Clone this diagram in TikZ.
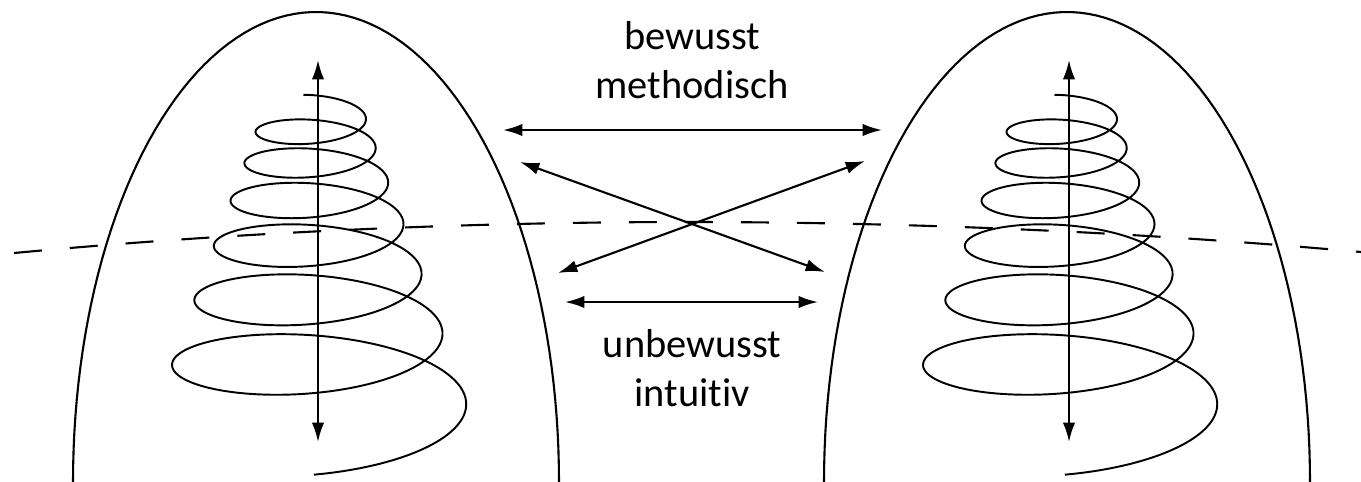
\documentclass[tikz,border=0pt]{standalone}
\usepackage{fontspec}
\setmainfont{Carlito}[Ligatures=NoCommon]
\usetikzlibrary{arrows.meta}

\begin{document}
\begin{tikzpicture}[x=0.02cm, y=-0.02cm,
  term/.style={align=center, inner sep=0pt, font=\fontsize{23}{27.5}\selectfont},
  twoway/.style={draw, {Latex[length=11pt,width=7pt]}-{Latex[length=11pt,width=7pt]}, line width=1.2pt},
  cone/.style={draw, line width=1.2pt},
  coil/.style={draw, line width=1.1pt},
  horizon/.style={draw, line width=1.2pt, dash pattern=on 0.56cm off 0.56cm}]

  \useasboundingbox (0,0) rectangle (1361,481);

  % dashed horizon
  \path [horizon] (14,253) parabola bend (686,222) (1361,252);

  \foreach \dx/\side in {0/l, 751/r} {
    % arch
    \path [cone] plot [domain=180:0, samples=90] ({316+\dx+243*cos(\x)}, {482-470*sin(\x)});
    % coil around the axis
    \path [coil] plot [domain=-0.03:6.5, samples=450, smooth]
      ({313+\dx+(51+7.6*(\x)+1.4*(\x)*(\x))*sin(360*\x)},
       {112+0.5*(51*(\x)+3.8*(\x)*(\x)+0.4667*(\x)*(\x)*(\x))-0.33*(51+7.6*(\x)+1.4*(\x)*(\x))*cos(360*\x)});
    \coordinate (up-\side) at (318+\dx,60);
    \coordinate (down-\side) at (318+\dx,442);
    \path [twoway] (up-\side) -- (down-\side);
  }

  \node [term] (conscious) at (692,60) {bewusst\\methodisch};
  \node [term] (unconscious) at (692,368) {unbewusst\\intuitiv};

  \coordinate (high-l) at (503,130);
  \coordinate (high-r) at (882,130);
  \coordinate (cross-a) at (520,162);
  \coordinate (cross-b) at (825,272);
  \coordinate (cross-c) at (865,161);
  \coordinate (cross-d) at (558,273);
  \coordinate (low-l) at (565,302);
  \coordinate (low-r) at (818,302);

  \path [twoway] (high-l) -- (high-r);
  \path [twoway] (cross-a) -- (cross-b);
  \path [twoway] (cross-c) -- (cross-d);
  \path [twoway] (low-l) -- (low-r);
\end{tikzpicture}
\end{document}
